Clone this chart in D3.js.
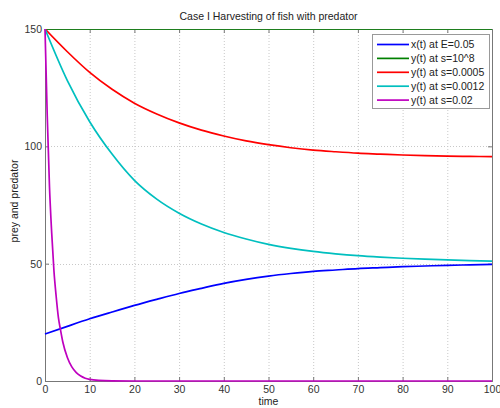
<!DOCTYPE html>
<html><head><meta charset="utf-8">
<script src="https://cdn.jsdelivr.net/npm/d3@7"></script>
<style>
html,body{margin:0;padding:0;background:#fff;}
svg{display:block;font-family:"Liberation Sans",Arial,sans-serif;}
</style></head>
<body>
<svg id="chart" width="500" height="408"></svg>
<script>
const chartTitle = "Case I Harvesting of fish with predator";
const xLabel = "time";
const yLabel = "prey and predator";
const xTicks = [0,10,20,30,40,50,60,70,80,90,100];
const yTicks = [0,50,100,150];

const time = [0,5,10,15,20,25,30,35,40,45,50,55,60,65,70,75,80,85,90,95,100];
const xE005   = [20,23.3,26.5,29.4,32.2,34.8,37.3,39.5,41.6,43.3,44.7,45.8,46.7,47.3,47.9,48.3,48.7,49.0,49.3,49.5,49.7];
const yS1e8   = [150,150,150,150,150,150,150,150,150,150,150,150,150,150,150,150,150,150,150,150,150];
const yS0005  = [150,140.3,131.5,124.3,118.4,113.8,110,106.9,104.4,102.3,100.7,99.4,98.4,97.7,97.1,96.7,96.3,96.0,95.8,95.7,95.6];
const yS0012  = [150,128,110.5,96.7,85.5,77.5,71.5,66.9,63.3,60.5,58.2,56.5,55.2,54.2,53.4,52.8,52.3,51.9,51.6,51.3,51.1];
const timeFast = [0,0.5,1,1.5,2,2.5,3,3.5,4,5,6,7,8,9,10,12,15,20,30,40,50,60,70,80,90,100];
const yS002   = [150,113,83,63,47,36,27,21.5,16.5,10,6,3.6,2.1,1.2,0.7,0.25,0.05,0,0,0,0,0,0,0,0,0];

const seriesNames = ["x(t) at E=0.05","y(t) at s=10^8","y(t) at s=0.0005","y(t) at s=0.0012","y(t) at s=0.02"];
const seriesColors = ["#0000ff","#008000","#ff0000","#00bfbf","#bf00bf"];

const series = [
  {name: seriesNames[0], color: seriesColors[0], t: time, v: xE005},
  {name: seriesNames[1], color: seriesColors[1], t: time, v: yS1e8},
  {name: seriesNames[2], color: seriesColors[2], t: time, v: yS0005},
  {name: seriesNames[3], color: seriesColors[3], t: time, v: yS0012},
  {name: seriesNames[4], color: seriesColors[4], t: timeFast, v: yS002}
];

const svg = d3.select("#chart");
const L = 45, R = 492, T = 29, B = 381;
const x = d3.scaleLinear().domain([0,100]).range([L,R]);
const y = d3.scaleLinear().domain([0,150]).range([B,T]);
const textColor = "#333";
const axisColor = "#777";

svg.append("defs").append("clipPath").attr("id","plotclip")
  .append("rect").attr("x", L-3).attr("y", T).attr("width", R-L+6).attr("height", B-T+3);

// grid
const g = svg.append("g");
g.selectAll(".gx").data(xTicks.slice(1,-1)).enter().append("line")
  .attr("x1", d=>x(d)+0.5).attr("x2", d=>x(d)+0.5).attr("y1", T).attr("y2", B)
  .attr("stroke", "#c8c8c8").attr("stroke-width", 1).attr("stroke-dasharray", "1,2");
g.selectAll(".gy").data(yTicks.slice(1,-1)).enter().append("line")
  .attr("y1", d=>Math.round(y(d))+0.5).attr("y2", d=>Math.round(y(d))+0.5).attr("x1", L).attr("x2", R)
  .attr("stroke", "#c8c8c8").attr("stroke-width", 1).attr("stroke-dasharray", "1,2");

// axes (ticks inward, box)
const xAxisB = d3.axisBottom(x).tickValues(xTicks).tickSize(-4).tickPadding(5).tickFormat(d3.format("d"));
const xAxisT = d3.axisTop(x).tickValues(xTicks).tickSize(-4).tickFormat("");
const yAxisL = d3.axisLeft(y).tickValues(yTicks).tickSize(-4).tickPadding(3).tickFormat(d3.format("d"));
const yAxisR = d3.axisRight(y).tickValues(yTicks).tickSize(-4).tickFormat("");

function styleAxis(sel){
  sel.select(".domain").attr("stroke", axisColor);
  sel.selectAll(".tick line").attr("stroke", axisColor);
  sel.selectAll(".tick text").attr("fill", textColor).attr("font-size", "10.5px")
     .attr("font-family", "Liberation Sans, Arial, sans-serif");
}
styleAxis(svg.append("g").attr("transform", `translate(0,${B})`).call(xAxisB));
styleAxis(svg.append("g").attr("transform", `translate(0,${T})`).call(xAxisT));
styleAxis(svg.append("g").attr("transform", `translate(${L},0)`).call(yAxisL));
styleAxis(svg.append("g").attr("transform", `translate(${R},0)`).call(yAxisR));

// lines
const line = d3.line().x(d=>x(d[0])).y(d=>y(d[1])).curve(d3.curveMonotoneX);
const lines = svg.append("g").attr("clip-path", "url(#plotclip)");
series.forEach(s => {
  const pts = s.t.map((tt,i)=>[tt, s.v[i]]);
  lines.append("path").datum(pts).attr("d", line)
    .attr("fill", "none").attr("stroke", s.color).attr("stroke-width", 1.7);
});

// title & labels
svg.append("text").attr("x", (L+R)/2).attr("y", 20).attr("text-anchor", "middle")
  .attr("font-size", "10.5px").attr("fill", "#222").text(chartTitle);
svg.append("text").attr("x", (L+R)/2).attr("y", 405).attr("text-anchor", "middle")
  .attr("font-size", "10.5px").attr("fill", "#222").text(xLabel);
svg.append("text").attr("transform", "translate(18,201) rotate(-90)").attr("text-anchor", "middle")
  .attr("font-size", "10.5px").attr("fill", "#222").text(yLabel);

// legend
const lg = svg.append("g");
lg.append("rect").attr("x", 372.5).attr("y", 34.5).attr("width", 117).attr("height", 74)
  .attr("fill", "#fff").attr("stroke", "#999").attr("stroke-width", 1);
series.forEach((s,i) => {
  const yy = 44.5 + i*13.9;
  lg.append("line").attr("x1", 377).attr("x2", 409).attr("y1", yy).attr("y2", yy)
    .attr("stroke", s.color).attr("stroke-width", 1.7);
  lg.append("text").attr("x", 411).attr("y", yy+3.8).attr("font-size", "10.5px")
    .attr("fill", "#222").text(s.name);
});
</script>
</body></html>
